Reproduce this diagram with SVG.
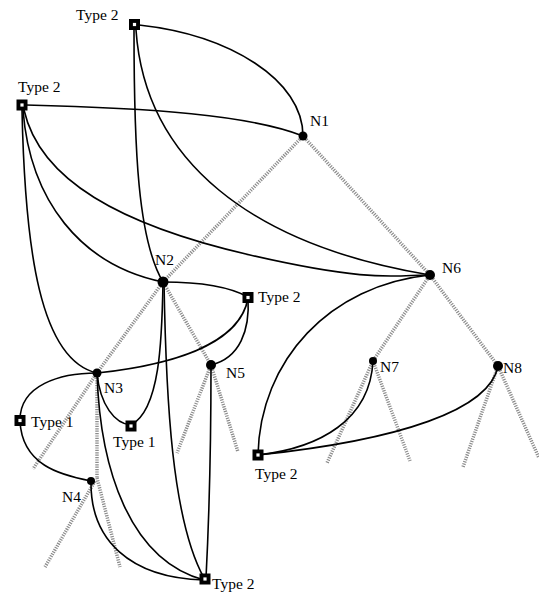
<svg xmlns="http://www.w3.org/2000/svg" width="539" height="597" viewBox="0 0 539 597">
<style>
.tree line{stroke:#8c8c8c;stroke-width:3.5;stroke-dasharray:1.2 1.2;fill:none}
.edges path{stroke:#000;stroke-width:1.6;fill:none}
.lbl{font-family:"Liberation Serif","Times New Roman",serif;font-size:15.5px;fill:#000}
.n{fill:#000}
.sq{fill:#000}
.in{fill:#fff}
</style>
<defs>
<g id="box"><rect class="sq" x="-5.5" y="-5.5" width="11" height="11"/><rect class="in" x="-1.6" y="-1.6" width="3.2" height="3.2"/></g>
</defs>
<rect width="539" height="597" fill="#fff"/>
<g class="tree" id="tree">
<line x1="303" y1="136" x2="163" y2="282"/>
<line x1="303" y1="136" x2="430" y2="275"/>
<line x1="163" y1="282" x2="97" y2="373"/>
<line x1="97" y1="373" x2="33" y2="469"/>
<line x1="163" y1="282" x2="211" y2="365"/>
<line x1="211" y1="365" x2="177" y2="453"/>
<line x1="211" y1="365" x2="238" y2="452"/>
<line x1="97" y1="373" x2="97" y2="478"/>
<line x1="97" y1="478" x2="120" y2="567"/>
<line x1="95" y1="481" x2="45" y2="567"/>
<line x1="430" y1="275" x2="373" y2="361"/>
<line x1="430" y1="275" x2="498" y2="366"/>
<line x1="373" y1="361" x2="327" y2="463"/>
<line x1="373" y1="361" x2="410" y2="461"/>
<line x1="498" y1="366" x2="463" y2="467"/>
<line x1="498" y1="366" x2="539" y2="458"/>
</g>
<g class="edges" id="connectors">
<path d="M139,25 C230,35 303,80 303,136"/>
<path d="M134,30 C134,150 138,240 163,282"/>
<path d="M136,30 C145,160 250,245 430,275"/>
<path d="M26,105 C150,108 250,115 303,136"/>
<path d="M24,110 C40,180 120,225 250,255 S400,274 430,275"/>
<path d="M23,110 C30,200 80,265 163,282"/>
<path d="M22,110 C25,250 40,360 97,373"/>
<path d="M163,282 C200,282 230,287 248,297"/>
<path d="M163,282 C162,340 160,410 131,425"/>
<path d="M164,282 C166,400 172,520 204,578"/>
<path d="M97,373 C170,365 240,345 248,298"/>
<path d="M211,365 C240,358 250,330 248,298"/>
<path d="M211,365 C211,450 209,520 206,578"/>
<path d="M97,373 C100,470 130,560 204,580"/>
<path d="M91,481 C90,540 130,578 204,580"/>
<path d="M20,420 C20,385 60,373 97,373"/>
<path d="M20,421 C22,465 60,475 91,481"/>
<path d="M97,373 C100,405 115,424 131,425"/>
<path d="M430,275 C330,285 260,360 258,455"/>
<path d="M373,361 C370,420 320,448 258,455"/>
<path d="M498,366 C490,410 400,440 258,455"/>
</g>
<g id="N1"><circle class="n" cx="303" cy="136" r="4.5"/><text class="lbl" x="310" y="126">N1</text></g>
<g id="N2"><circle class="n" cx="163" cy="282" r="5.5"/><text class="lbl" x="155" y="265">N2</text></g>
<g id="N3"><circle class="n" cx="97" cy="373" r="4.5"/><text class="lbl" x="104" y="393">N3</text></g>
<g id="N4"><circle class="n" cx="91" cy="481" r="4"/><text class="lbl" x="62" y="502">N4</text></g>
<g id="N5"><circle class="n" cx="211" cy="365" r="5"/><text class="lbl" x="226" y="378">N5</text></g>
<g id="N6"><circle class="n" cx="430" cy="275" r="5"/><text class="lbl" x="442" y="273">N6</text></g>
<g id="N7"><circle class="n" cx="373" cy="361" r="4"/><text class="lbl" x="380" y="372">N7</text></g>
<g id="N8"><circle class="n" cx="498" cy="366" r="5"/><text class="lbl" x="503" y="373">N8</text></g>
<g id="T2a"><use href="#box" x="134.5" y="24.5"/><text class="lbl" x="76" y="20">Type 2</text></g>
<g id="T2b"><use href="#box" x="22" y="105"/><text class="lbl" x="18" y="92">Type 2</text></g>
<g id="T2c"><use href="#box" x="248" y="297.5"/><text class="lbl" x="258" y="302">Type 2</text></g>
<g id="T2d"><use href="#box" x="258" y="455"/><text class="lbl" x="255" y="479">Type 2</text></g>
<g id="T2e"><use href="#box" x="205" y="579"/><text class="lbl" x="212" y="589">Type 2</text></g>
<g id="T1f"><use href="#box" x="20" y="420.5"/><text class="lbl" x="31" y="427">Type 1</text></g>
<g id="T1g"><use href="#box" x="131" y="426"/><text class="lbl" x="113" y="447">Type 1</text></g>
</svg>
